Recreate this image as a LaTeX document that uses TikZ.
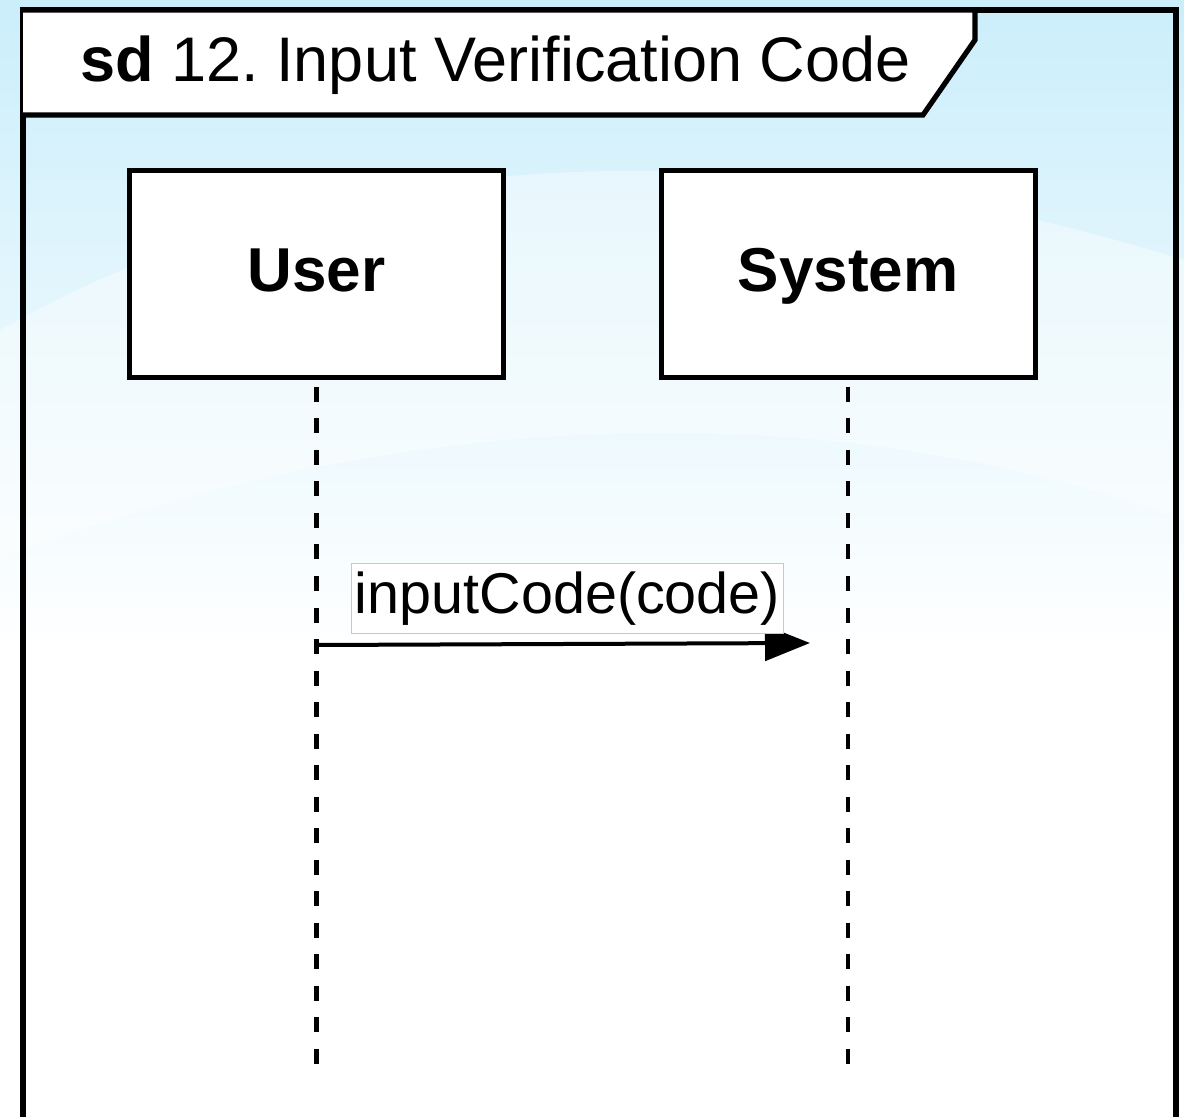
\documentclass[tikz,border=0pt]{standalone}
\usepackage{fontspec}
\setmainfont{Liberation Sans}
\usepackage{tikz}
\usetikzlibrary{positioning}
\usetikzlibrary{arrows,arrows.meta}
\definecolor{bgblue}{RGB}{203,238,251}
\definecolor{lblgray}{RGB}{200,200,200}
\frenchspacing

\begin{document}
\begin{tikzpicture}[x=0.5pt,y=-0.5pt,node distance=265.75pt,on grid,
		head/.style={rectangle,draw=black,fill=white,line width=2.5pt,minimum width=187pt,minimum height=103.5pt,text height=23pt,text depth=6pt,font=\fontsize{31}{36}\selectfont\bfseries},
		lifeline/.style={line width=2.4pt,dash pattern=on 7.5pt off 8.25pt},
		msg/.style={line width=2pt,-{Triangle[length=22.5pt,width=17.5pt]}},
		msglabel/.style={rectangle,draw=lblgray,line width=0.5pt,fill=white,inner sep=1.5pt,minimum height=35pt,font=\fontsize{28.75}{33}\selectfont},
		frame/.style={line width=2.6pt,draw=black}]
		\useasboundingbox (0,0) rectangle (1184,1117);
		% background
		\shade[top color=bgblue,bottom color=white] (0,0) rectangle (1184,650);
		\fill[white] (0,649) rectangle (1184,1117);
		\fill[white,opacity=0.4] (0,330) .. controls (300,160) and (700,110) .. (1184,260)
			-- (1184,520) .. controls (800,380) and (350,420) .. (0,560) -- cycle;
		
		% frame
		\draw[frame] (23,1125) -- (23,10) -- (1176,10) -- (1176,1125);
		\draw[frame,fill=white,line join=miter] (23,10) -- (975,10) -- (975,40) -- (923,115) -- (23,115);
		\node[anchor=base west,inner sep=0pt,font=\fontsize{31.5}{36}\selectfont] (title) at (80,82) {\textbf{sd} 12. Input Verification Code};
		
		% heads
		\node[head] (user) at (316.5,274.5) {User};
		\node[head] (system) [right=of user] {System};
		
		% lifelines
		\coordinate (userTop) at (316.5,387);
		\coordinate (userEnd) at (316.5,1068);
		\coordinate (sysTop) at (848,387);
		\coordinate (sysEnd) at (848,1068);
		\draw[lifeline] (userTop) -- (userEnd);
		\draw[lifeline] (sysTop) -- (sysEnd);
		
		% message
		\coordinate (msgStart) at (316.5,645);
		\coordinate (msgEnd) at (810,643);
		\draw[msg] (msgStart) -- (msgEnd);
		\node[msglabel] (inputCode) at (567.5,598.5) {inputCode(code)};
		\end{tikzpicture}
\end{document}
